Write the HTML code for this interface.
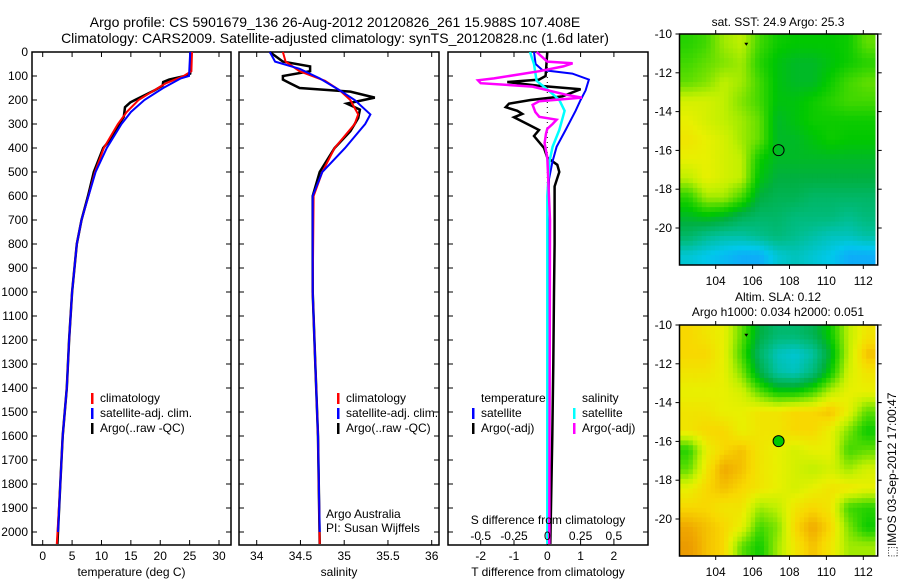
<!DOCTYPE html>
<html><head><meta charset="utf-8">
<style>
html,body{margin:0;padding:0;background:#fff;}
svg{display:block;font-family:"Liberation Sans",sans-serif;}
text{fill:#000;}
</style></head>
<body>
<svg id="fig" width="900" height="580" viewBox="0 0 900 580" xmlns="http://www.w3.org/2000/svg">
<rect width="900" height="580" fill="#fff"/>
<text x="335" y="27" font-size="14" text-anchor="middle">Argo profile: CS 5901679_136 26-Aug-2012 20120826_261 15.988S 107.408E</text>
<text x="335" y="43" font-size="14" text-anchor="middle">Climatology: CARS2009. Satellite-adjusted climatology: synTS_20120828.nc (1.6d later)</text>
<g id="g"></g>
</svg>
<script>
// ---- data ----
const depthTicks = [0,100,200,300,400,500,600,700,800,900,1000,1100,1200,1300,1400,1500,1600,1700,1800,1900,2000];
const tTicks = [0,5,10,15,20,25,30];
const sTicks = [34,34.5,35,35.5,36];
const sTickLabels = ["34","34.5","35","35.5","36"];
const dTTicks = [-2,-1,0,1,2];
const dSTicks = [-0.5,-0.25,0,0.25,0.5];
const dSTickLabels = ["-0.5","-0.25","0","0.25","0.5"];

const tDepthArgo = [0,90,100,115,125,140,160,200,210,230,270,300,350,400,500,600,700,800,1000,1200,1400,1600,1800,2050];
const tArgo = [25.3,25.1,24.2,21.5,20.5,20.4,19.0,15.7,14.9,14.0,13.8,13.0,12.0,10.3,8.7,7.7,6.6,5.8,5.0,4.5,4.1,3.4,3.0,2.5];
const tDepthClim = [0,80,100,130,170,200,250,300,400,500,600,700,800,1000,1200,1400,1600,1800,2050];
const tClim = [25.4,25.3,24.0,21.0,18.3,16.3,14.3,12.8,10.4,8.9,7.8,6.6,5.8,5.0,4.5,4.1,3.4,3.0,2.4];
const tDepthSat = [0,100,110,150,200,250,300,400,500,600,700,800,1000,1200,1400,1600,1800,2000];
const tSat = [25.1,24.9,23.5,20.5,17.3,15.0,13.4,10.9,9.0,7.8,6.6,5.8,5.0,4.5,4.1,3.4,3.0,2.6];

const sDepthArgo = [0,40,60,80,100,115,130,150,165,190,215,240,275,300,330,400,500,600,1000,1300,1600,2050];
const sArgo = [34.15,34.3,34.61,34.61,34.3,34.3,34.38,34.49,35.07,35.35,35.03,35.18,35.16,35.12,35.07,34.89,34.72,34.64,34.64,34.67,34.70,34.72];
const sDepthClim = [0,40,80,120,160,200,260,300,400,500,600,1000,1300,1600,2050];
const sClim = [34.3,34.33,34.49,34.78,34.95,35.07,35.16,35.12,34.89,34.75,34.65,34.64,34.67,34.70,34.72];
const sDepthSat = [0,40,70,110,160,200,260,300,400,500,600,1000,1300,1600,2000];
const sSat = [34.15,34.21,34.49,34.72,34.95,35.12,35.30,35.24,35.01,34.75,34.64,34.64,34.67,34.70,34.72];

const dDepthArgoT = [0,100,115,125,140,155,185,200,215,230,245,258,272,300,325,350,400,440,470,500,560,600,800,1000,1300,1600,2050];
const dArgoT = [0,-0.05,-0.25,-1.2,-0.3,1.0,0.45,-0.5,-1.15,-1.25,-0.9,-0.75,-1.0,-0.6,-0.25,-0.4,-0.1,0,0.3,0.36,0.22,0.22,0.22,0.2,0.18,0.15,0.09];
const dDepthSatT = [0,50,75,90,115,160,200,245,325,395,460,530,700,2000];
const dSatT = [-0.4,-0.35,-0.15,0.75,1.25,1.15,1.0,0.85,0.55,0.28,0.15,0.05,0.03,0.03];
const dDepthArgoS = [0,40,47,60,80,110,118,130,144,178,190,205,220,250,270,282,300,320,340,380,440,700,2050];
const dArgoS = [-0.08,0,0.19,0.12,-0.06,-0.4,-0.52,-0.5,-0.11,0.14,0.26,-0.06,-0.11,-0.09,-0.06,0.07,0.04,0,-0.01,-0.02,0,0.02,0.015];
const dDepthSatS = [0,50,120,160,200,245,325,395,460,600,2050];
const dSatS = [-0.13,-0.1,-0.08,0.01,0.09,0.13,0.09,0.04,0.015,0,0];

const mapLons = [104,106,108,110,112];
const mapLats = [-10,-12,-14,-16,-18,-20];
const argoLon = 107.408, argoLat = -15.988;
const sstGrid = [
[.58,.60,.66,.68,.60,.56,.55,.55,.55,.56,.62],
[.60,.62,.64,.66,.58,.54,.52,.52,.54,.56,.58],
[.62,.64,.68,.66,.60,.54,.52,.52,.56,.60,.62],
[.70,.70,.68,.64,.60,.54,.54,.56,.58,.60,.60],
[.72,.70,.68,.66,.62,.52,.54,.56,.56,.56,.56],
[.74,.72,.70,.66,.62,.52,.52,.54,.56,.55,.55],
[.72,.72,.70,.68,.56,.52,.52,.52,.52,.52,.52],
[.68,.72,.70,.68,.54,.50,.50,.50,.50,.50,.50],
[.58,.66,.66,.60,.50,.48,.48,.46,.46,.46,.46],
[.52,.54,.52,.48,.46,.46,.44,.44,.44,.42,.44],
[.46,.42,.40,.40,.42,.44,.42,.40,.38,.38,.40],
[.36,.34,.32,.30,.30,.36,.38,.36,.34,.30,.30]];
const slaGrid = [
[.76,.74,.72,.62,.50,.45,.45,.48,.56,.68,.74],
[.76,.76,.72,.60,.46,.38,.36,.40,.52,.68,.78],
[.74,.74,.72,.64,.50,.40,.38,.44,.56,.70,.74],
[.72,.72,.72,.70,.62,.56,.56,.60,.68,.72,.72],
[.74,.74,.72,.72,.74,.74,.76,.76,.78,.72,.62],
[.74,.76,.76,.72,.74,.74,.76,.76,.72,.64,.56],
[.58,.72,.76,.78,.74,.72,.70,.72,.72,.60,.62],
[.62,.74,.80,.78,.74,.72,.70,.68,.70,.66,.70],
[.72,.76,.78,.76,.74,.72,.70,.72,.74,.74,.72],
[.76,.76,.74,.74,.66,.68,.74,.76,.74,.60,.58],
[.80,.78,.76,.72,.60,.64,.76,.80,.76,.64,.56],
[.82,.78,.76,.62,.56,.66,.74,.78,.74,.66,.66]];

// ---- drawing ----
const NS = "http://www.w3.org/2000/svg";
const G = document.getElementById('g');
function mk(tag, attrs, parent){ const e=document.createElementNS(NS,tag); for(const k in attrs) e.setAttribute(k,attrs[k]); (parent||G).appendChild(e); return e; }
function txt(x,y,s,size,anchor,parent){ const t=mk('text',{x:x,y:y,'font-size':size||12,'text-anchor':anchor||'middle'},parent); t.textContent=s; return t; }

const Y0=52, Y1=545;
const yD = d => 52 + d*0.24;

function panel(name, x0, x1, xs, xticks, xlabels, xtitle){
  const g = mk('g',{});
  
  
  const fr = mk('rect',{x:x0,y:Y0,width:x1-x0,height:Y1-Y0,fill:'none',stroke:'#000','stroke-width':1.5},g);
  
  
  depthTicks.forEach(d=>{
    const y=yD(d);
    mk('line',{x1:x0,x2:x0+5,y1:y,y2:y,stroke:'#000'},g);
    mk('line',{x1:x1-5,x2:x1,y1:y,y2:y,stroke:'#000'},g);
  });
  xticks.forEach((v,i)=>{
    const x=xs(v);
    mk('line',{x1:x,x2:x,y1:Y0,y2:Y0+5,stroke:'#000'},g);
    mk('line',{x1:x,x2:x,y1:Y1-5,y2:Y1,stroke:'#000'},g);
    const t=txt(x,560,xlabels[i],12,'middle',g);
    
    
  });
  const xt=txt((x0+x1)/2,576,xtitle,12,'middle',g);
  
  
  return g;
}
function series(g, depths, vals, xs, color, w, name){
  const pts = depths.map((d,i)=>xs(vals[i]).toFixed(1)+','+yD(d).toFixed(1)).join(' ');
  const p = mk('polyline',{points:pts,fill:'none',stroke:color,'stroke-width':w,'stroke-linejoin':'miter'},g);
  
  
}
function legend(g, x, y, color, label, name){
  const l = mk('rect',{x:x,y:y-9,width:2.5,height:11,fill:color},g);
  
  
  const t = txt(x+9,y,label,12,'start',g);
  
  
}

depthTicks.forEach(d=>{
  const t=txt(28,yD(d)+4,String(d),12,'end');
  
  
});

const xT = v => 42.7 + v*5.877;
const p1 = panel('temperature-panel',32,231,xT,tTicks,tTicks.map(String),'temperature (deg C)');
series(p1,tDepthArgo,tArgo,xT,'#000',2.5,'temperature-argo-line');
series(p1,tDepthClim,tClim,xT,'#f00',2,'temperature-climatology-line');
series(p1,tDepthSat,tSat,xT,'#00f',2,'temperature-satellite-line');
legend(p1,91,402,'#f00','climatology','legend-climatology');
legend(p1,91,417,'#00f','satellite-adj. clim.','legend-satellite-adj');
legend(p1,91,432,'#000','Argo(..raw -QC)','legend-argo');

const xS = v => 256.7 + (v-34)*87.5;
const p2 = panel('salinity-panel',239,439,xS,sTicks,sTickLabels,'salinity');
series(p2,sDepthArgo,sArgo,xS,'#000',2.5,'salinity-argo-line');
series(p2,sDepthClim,sClim,xS,'#f00',2,'salinity-climatology-line');
series(p2,sDepthSat,sSat,xS,'#00f',2,'salinity-satellite-line');
legend(p2,337,402,'#f00','climatology','legend-climatology-2');
legend(p2,337,417,'#00f','satellite-adj. clim.','legend-satellite-adj-2');
legend(p2,337,432,'#000','Argo(..raw -QC)','legend-argo-2');
const c1=txt(326,518,'Argo Australia',12,'start',p2);
 
const c2=txt(326,532,'PI: Susan Wijffels',12,'start',p2);
 

const xDT = v => 547.3 + v*33.3;
const xDS = v => 547.3 + v*133.2;
const p3 = panel('difference-panel',448,648,xDT,dTTicks,dTTicks.map(String),'T difference from climatology');
mk('line',{x1:xDT(0),x2:xDT(0),y1:Y0,y2:Y1,stroke:'#000','stroke-width':1,'stroke-dasharray':'1,4'},p3);
series(p3,dDepthArgoT,dArgoT,xDT,'#000',2.5,'t-diff-argo-line');
series(p3,dDepthSatT,dSatT,xDT,'#00f',2,'t-diff-satellite-line');
series(p3,dDepthSatS,dSatS,xDS,'#0ff',2.5,'s-diff-satellite-line');
series(p3,dDepthArgoS,dArgoS,xDS,'#f0f',2.5,'s-diff-argo-line');
const lt=txt(481,402,'temperature',12,'start',p3);  
const ls=txt(582,402,'salinity',12,'start',p3);  
legend(p3,472,417,'#00f','satellite','legend-t-satellite');
legend(p3,472,432,'#000','Argo(-adj)','legend-t-argo');
legend(p3,573,417,'#0ff','satellite','legend-s-satellite');
legend(p3,573,432,'#f0f','Argo(-adj)','legend-s-argo');
const st=txt(548,524,'S difference from climatology',12,'middle',p3);
 
dSTicks.forEach((v,i)=>{
  const t=txt(xDS(v),540,dSTickLabels[i],12,'middle',p3);
   
});

// ---- maps ----
const cmStops = [[0.28,[20,160,255]],[0.34,[0,200,235]],[0.42,[0,190,140]],[0.50,[0,176,64]],[0.55,[0,200,0]],[0.60,[64,216,0]],[0.68,[192,240,0]],[0.72,[232,240,0]],[0.76,[248,216,0]],[0.80,[240,168,0]],[0.86,[224,128,0]]];
function cmap(v){
  if(v<=cmStops[0][0]) return 'rgb('+cmStops[0][1]+')';
  for(let i=1;i<cmStops.length;i++){
    if(v<=cmStops[i][0]){
      const [a,ca]=cmStops[i-1],[b,cb]=cmStops[i]; const f=(v-a)/(b-a);
      return 'rgb('+ca.map((c,k)=>Math.round(c+(cb[k]-c)*f)).join(',')+')';
    }
  }
  return 'rgb('+cmStops[cmStops.length-1][1]+')';
}
function sample(grid, fr, fc){
  const nr=grid.length, nc=grid[0].length;
  const r=Math.max(0,Math.min(nr-1,fr-0.5)), c=Math.max(0,Math.min(nc-1,fc-0.5));
  const r0=Math.floor(r), c0=Math.floor(c), r1=Math.min(nr-1,r0+1), c1=Math.min(nc-1,c0+1);
  const a=r-r0, b=c-c0;
  return grid[r0][c0]*(1-a)*(1-b)+grid[r0][c1]*(1-a)*b+grid[r1][c0]*a*(1-b)+grid[r1][c1]*a*b;
}
function drawMap(name, top, grid, filledMarker){
  const left=679.5, right=877.7, bottom=top+231;
  const lonX = lon => 715.7 + (lon-104)*18.45;
  const latY = lat => top + (-10-lat)*19.4;
  const g=mk('g',{});
  
  
  const lon0=102.04, lon1=112.64, lat0=-10, lat1=-21.9;
  const nr=grid.length, nc=grid[0].length, SUB=4;
  for(let r=0;r<nr*SUB;r++) for(let c=0;c<nc*SUB;c++){
    const la=lon0+(lon1-lon0)*c/(nc*SUB), lb=lon0+(lon1-lon0)*(c+1)/(nc*SUB);
    const ta=lat0+(lat1-lat0)*r/(nr*SUB), tb=lat0+(lat1-lat0)*(r+1)/(nr*SUB);
    const v=sample(grid,(r+0.5)/SUB,(c+0.5)/SUB);
    const cell=mk('rect',{x:lonX(la).toFixed(2),y:latY(ta).toFixed(2),width:(lonX(lb)-lonX(la)+0.4).toFixed(2),height:(latY(tb)-latY(ta)+0.4).toFixed(2),fill:cmap(v)},g);
    
    
  }
  mk('rect',{x:left,y:top,width:right-left,height:bottom-top,fill:'none',stroke:'#000','stroke-width':1.5},g);
  mapLons.forEach(l=>{
    const x=lonX(l);
    mk('line',{x1:x,x2:x,y1:top,y2:top-4,stroke:'#000'},g);
    mk('line',{x1:x,x2:x,y1:bottom,y2:bottom+4,stroke:'#000'},g);
    const t=txt(x,bottom+20,String(l),12,'middle',g);
     
  });
  mapLats.forEach(l=>{
    const y=latY(l);
    mk('line',{x1:left,x2:left-4,y1:y,y2:y,stroke:'#000'},g);
    mk('line',{x1:right,x2:right+4,y1:y,y2:y,stroke:'#000'},g);
    const t=txt(672,y+4,String(l),12,'end',g);
     
  });
  const m=mk('circle',{cx:lonX(argoLon),cy:latY(argoLat),r:5.5,fill:filledMarker?'#00c800':'none',stroke:'#000','stroke-width':1},g);
   
  mk('path',{d:`M${lonX(105.55)} ${latY(-10.45)} l4 0 l-2 3 z`,fill:'#000'},g);
}
drawMap('sst-map',34,sstGrid,false);
drawMap('sla-map',325,slaGrid,true);
const mt1=txt(778,26,'sat. SST: 24.9 Argo: 25.3',12,'middle');  
const mt2=txt(778,301,'Altim. SLA: 0.12',12,'middle');  
const mt3=txt(778,316,'Argo h1000: 0.034 h2000: 0.051',12,'middle');  
const stamp=txt(0,0,'⬚IMOS 03-Sep-2012 17:00:47',12,'middle');
stamp.setAttribute('transform','translate(896,475) rotate(-90)');
 
</script>
</body></html>
